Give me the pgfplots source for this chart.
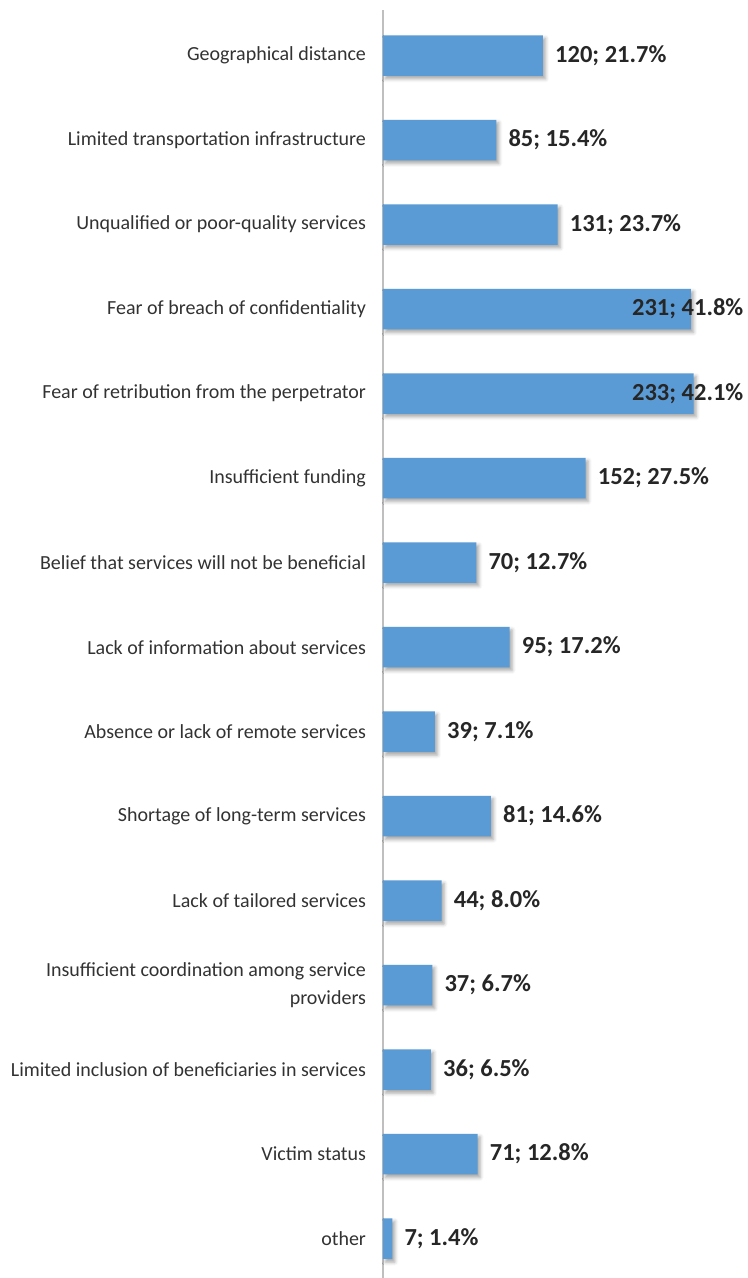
\documentclass[border=0pt]{standalone}
\usepackage{pgfplots}
\pgfplotsset{compat=1.18}
\usepackage{pgfplotstable}
\usepackage{fontspec}
\setmainfont{Carlito}
\usetikzlibrary{shadows.blur}
\definecolor{barblue}{RGB}{91,155,213}
\definecolor{labgray}{RGB}{50,50,50}
\definecolor{valgray}{RGB}{38,38,38}
\definecolor{axgray}{RGB}{191,191,191}
\protected\def\sc{;}

\pgfplotstableread[col sep=comma]{
idx,val,lx,lab
0,120,129,120\sc{} 21.7\%
1,85,94,85\sc{} 15.4\%
2,131,140,131\sc{} 23.7\%
3,231,186.7,231\sc{} 41.8\%
4,233,186.7,233\sc{} 42.1\%
5,152,161,152\sc{} 27.5\%
6,70,79,70\sc{} 12.7\%
7,95,104,95\sc{} 17.2\%
8,39,48,39\sc{} 7.1\%
9,81,90,81\sc{} 14.6\%
10,44,53,44\sc{} 8.0\%
11,37,46,37\sc{} 6.7\%
12,36,45,36\sc{} 6.5\%
13,71,80,71\sc{} 12.8\%
14,7,16,7\sc{} 1.4\%
}\data

\begin{document}
\begin{tikzpicture}
\begin{axis}[
  x=1.3333pt, y=84.5pt, y dir=reverse,
  xmin=0, xmax=273.75, ymin=-0.54, ymax=14.466,
  axis x line=none,
  axis y line*=left,
  y axis line style={draw=axgray, line width=2pt},
  ytick={0,...,14},
  yticklabels={
    Geographical distance,
    Limited transportation infrastructure,
    Unqualified or poor-quality services,
    Fear of breach of confidentiality,
    Fear of retribution from the perpetrator,
    Insufficient funding,
    Belief that services will not be beneficial,
    Lack of information about services,
    Absence or lack of remote services,
    Shortage of long-term services,
    Lack of tailored services,
    {Insufficient coordination among service\\providers},
    Limited inclusion of beneficiaries in services,
    Victim status,
    other},
  major tick length=0pt,
  ytick style={draw=none},
  yticklabel style={font=\fontsize{20}{28}\selectfont, text=labgray, align=right, xshift=-13.5pt},
  clip=false,
]
\addplot[xbar, bar width=40.7pt, fill=barblue, draw=none,
  blur shadow={shadow xshift=2.5pt, shadow yshift=-3pt, shadow blur radius=3.5pt, shadow opacity=35}]
  table[x=val, y=idx] {\data};
\addplot[only marks, mark=*, mark size=0pt,
  scatter/use mapped color={draw=none, fill=none},
  nodes near coords, point meta=explicit symbolic,
  every node near coord/.append style={anchor=west, inner sep=0pt,
    font=\fontsize{24.5}{28}\selectfont\bfseries, text=valgray}]
  table[x=lx, y=idx, meta=lab] {\data};
\end{axis}
\pgfresetboundingbox
\path ([shift={(-383pt,10pt)}]current axis.north west) rectangle (current axis.south east);
\end{tikzpicture}
\end{document}
